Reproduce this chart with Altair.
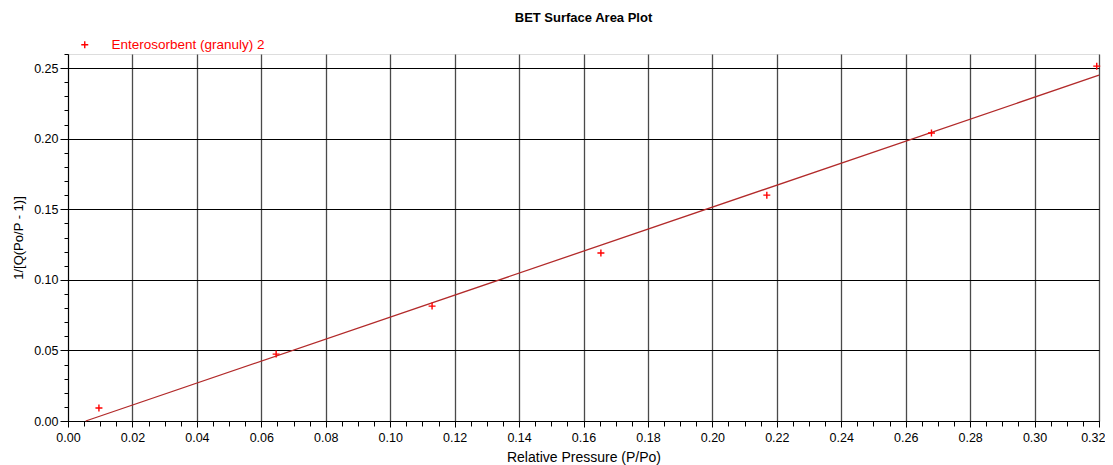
import altair as alt
import pandas as pd

# measured points
px = [0.0096, 0.0646, 0.1130, 0.1654, 0.2169, 0.2680, 0.3193]
py = [0.0092, 0.0474, 0.0814, 0.1190, 0.1600, 0.2040, 0.2514]
series = "Enterosorbent (granuly) 2"

# fitted BET line endpoints
fit_x = [0.0055, 0.3200]
fit_y = [0.0000, 0.2450]

pts = pd.DataFrame({"x": px, "y": py, "s": [series] * len(px)})
fit = pd.DataFrame({"x": fit_x, "y": fit_y})

FONT = "Liberation Sans"
plus = "M-1,0H1M0,-1V1"

xscale = alt.Scale(domain=[0, 0.32], nice=False, zero=False)
yscale = alt.Scale(domain=[0, 0.26], nice=False, zero=False)

xmaj = [round(i * 0.02, 2) for i in range(17)]
ymaj = [round(i * 0.05, 2) for i in range(6)]
xmin = [round(i * 0.005, 3) for i in range(65)]
ymin = [round(i * 0.01, 2) for i in range(27)]

major_x = alt.Axis(values=xmaj, format=".2f", grid=True, gridColor="#4a4a4a", gridWidth=1.3,
                   tickSize=6, tickColor="#000", domainColor="#000", labelFontSize=12.5,
                   labelColor="#000", title="Relative Pressure (P/Po)", titleFontSize=14,
                   titleFontWeight="normal", titleColor="#000", labelFont=FONT, titleFont=FONT,
                   titlePadding=7, labelPadding=4, labelFlush=False, labelOverlap=False,
                   labelAlign={"condition": {"test": "datum.value >= 0.319", "value": "right"},
                               "value": "center"},
                   labelOffset={"condition": {"test": "datum.value >= 0.319", "value": 6},
                                "value": 0})
major_y = alt.Axis(values=ymaj, format=".2f", grid=True, gridColor="#000000", gridWidth=1,
                   tickSize=8, tickColor="#000", domainColor="#000", labelFontSize=12.5,
                   labelColor="#000", title="1/[Q(Po/P - 1)]", titleFontSize=13,
                   titleFontWeight="normal", titleColor="#000", labelFont=FONT, titleFont=FONT,
                   titlePadding=8, labelPadding=2, labelFlush=False, labelOverlap=False)
minor_x = alt.Axis(values=xmin, labels=False, grid=False, tickSize=5, tickColor="#000",
                   domain=False, title=None, orient="bottom")
minor_y = alt.Axis(values=ymin, labels=False, grid=False, tickSize=4, tickColor="#000",
                   domain=False, title=None, orient="left")

line = alt.Chart(fit).mark_line(color="#b22a2a", strokeWidth=1.3).encode(
    x=alt.X("x:Q", scale=xscale, axis=major_x),
    y=alt.Y("y:Q", scale=yscale, axis=major_y),
)

points = alt.Chart(pts).mark_point(shape=plus, size=49, filled=False, strokeWidth=1.4, opacity=1).encode(
    x=alt.X("x:Q", scale=xscale, axis=minor_x),
    y=alt.Y("y:Q", scale=yscale, axis=minor_y),
    color=alt.Color("s:N", scale=alt.Scale(range=["#ff0000"]),
                    legend=alt.Legend(title=None, orient="none", legendX=10, legendY=-16,
                                      symbolType=plus, symbolSize=49, symbolStrokeWidth=1.4,
                                      symbolOpacity=1,
                                      labelColor="#ff0000", labelFontSize=13.5, labelFont=FONT,
                                      labelOffset=20, direction="horizontal")),
)

chart = alt.layer(line, points).resolve_axis(x="independent", y="independent").properties(
    width=1031, height=367,
    autosize=alt.AutoSizeParams(type="none"),
    padding={"left": 60, "top": 46, "right": 6, "bottom": 44},
    title=alt.TitleParams("BET Surface Area Plot", fontSize=13, fontWeight="bold", font=FONT,
                          color="#000", anchor="middle", offset=13),
).configure_view(stroke="#777777", strokeWidth=1.5).configure(background="white")

chart.save("out.html", embed_options={"renderer": "svg", "actions": False})
